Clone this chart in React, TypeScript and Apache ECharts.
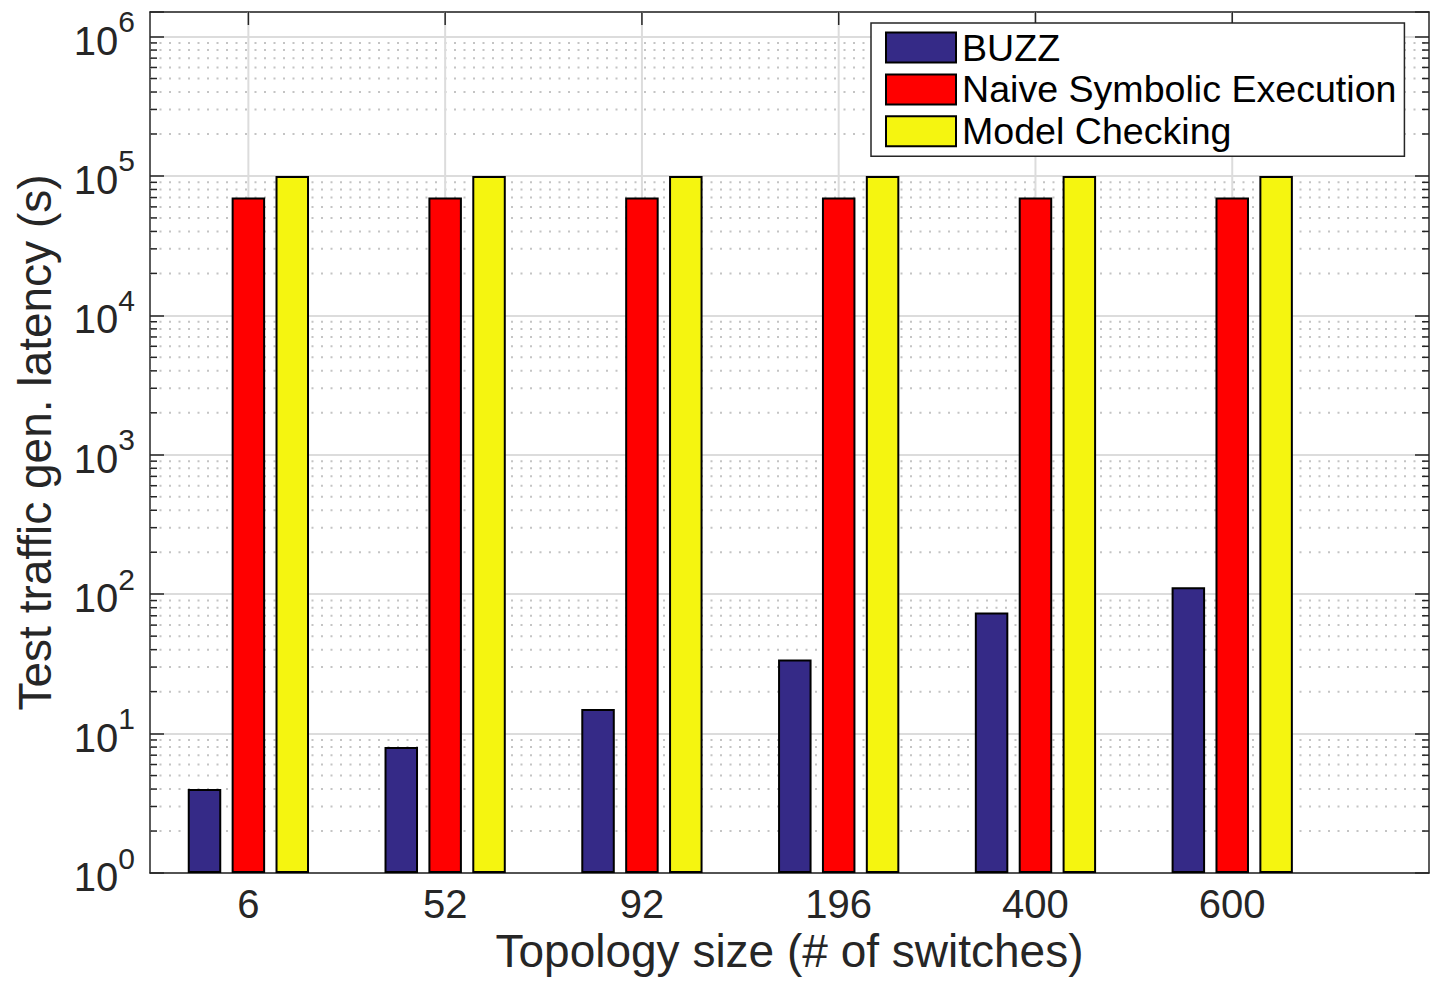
import React, { useEffect, useRef } from "react";
import * as echarts from "echarts";

const categories = ["6", "52", "92", "196", "400", "600"];
const buzz = [4, 8, 15, 34, 74, 112];
const naive = [70000, 70000, 70000, 70000, 70000, 70000];
const modelChecking = [100000, 100000, 100000, 100000, 100000, 100000];
const seriesNames = ["BUZZ", "Naive Symbolic Execution", "Model Checking"];
const seriesColors = ["#352A87", "#FF0000", "#F5F510"];
const decades = [1, 10, 100, 1000, 10000, 100000];
const mantissas = [2, 3, 4, 5, 6, 7, 8, 9];
const yMin = 1;
const yMax = 1.5e6;
const xTitle = "Topology size (# of switches)";
const yTitle = "Test traffic gen. latency (s)";

const FONT = "'Liberation Sans', Arial, Helvetica, sans-serif";
const AXIS_COLOR = "#262626";
const GRID_COLOR = "#DCDCDC";

export default function App() {
  const ref = useRef<HTMLDivElement>(null);

  useEffect(() => {
    if (!ref.current) return;
    const chart = echarts.init(ref.current, undefined, { renderer: "svg" });

    const minorValues: number[] = [];
    decades.forEach((d) => mantissas.forEach((m) => minorValues.push(m * d)));

    const xLabel = (v: number) => {
      const r = Math.round(v);
      if (Math.abs(v - r) > 1e-6) return "";
      return r >= 1 && r <= categories.length ? categories[r - 1] : "";
    };
    const yLabel = (v: number) => {
      const e = Math.round(Math.log10(v));
      if (Math.abs(v - Math.pow(10, e)) > 1e-6 * v) return "";
      return `{b|10}{s|${e}}`;
    };

    const baseX = {
      type: "value",
      min: 0.5,
      max: 7,
      interval: 0.5,
      axisLine: { show: true, onZero: false, lineStyle: { color: AXIS_COLOR, width: 1.5 } },
      axisTick: { show: false },
      splitLine: { show: false },
    };
    const baseY = {
      type: "log",
      logBase: 10,
      min: yMin,
      max: yMax,
      axisLine: { show: true, onZero: false, lineStyle: { color: AXIS_COLOR, width: 1.5 } },
      axisTick: { show: true, inside: true, length: 14, lineStyle: { color: AXIS_COLOR, width: 1.5 } },
    };

    const barSeries = [buzz, naive, modelChecking].map((vals, si) => ({
      name: seriesNames[si],
      type: "bar",
      xAxisIndex: 0,
      yAxisIndex: 0,
      z: 3,
      barWidth: 33.5,
      barGap: "31%",
      itemStyle: { color: seriesColors[si], borderColor: "#000", borderWidth: 2 },
      data: vals.map((v, i) => [i + 1, v]),
    }));

    chart.setOption({
      animation: false,
      backgroundColor: "#fff",
      grid: {
        left: 150,
        right: 2,
        top: 12,
        bottom: 108,
        containLabel: false,
        outerBoundsMode: "none",
      },
      legend: {
        data: seriesNames,
        orient: "vertical",
        left: 871,
        top: 23,
        icon: "rect",
        itemWidth: 70,
        itemHeight: 30,
        itemGap: 3.9,
        padding: [5.5, 8, 6, 14],
        backgroundColor: "#fff",
        borderColor: AXIS_COLOR,
        borderWidth: 1.5,
        itemStyle: { borderColor: "#000", borderWidth: 2 },
        textStyle: { fontSize: 37.6, color: "#000", fontFamily: FONT, padding: [0, 0, 0, 1] },
      },
      xAxis: [
        {
          ...baseX,
          position: "bottom",
          name: xTitle,
          nameLocation: "middle",
          nameGap: 55,
          nameMoveOverlap: false,
          nameTextStyle: { fontSize: 46, color: AXIS_COLOR, fontFamily: FONT },
          axisLabel: {
            show: true,
            formatter: xLabel,
            fontSize: 40,
            color: AXIS_COLOR,
            fontFamily: FONT,
            margin: 11,
            showMinLabel: true,
            showMaxLabel: true,
          },
        },
        {
          ...baseX,
          position: "top",
          axisLabel: { show: false },
        },
      ],
      yAxis: [
        {
          ...baseY,
          position: "left",
          name: yTitle,
          nameLocation: "middle",
          nameGap: 92,
          nameMoveOverlap: false,
          nameTextStyle: { fontSize: 46, color: AXIS_COLOR, fontFamily: FONT },
          axisLabel: {
            show: true,
            formatter: yLabel,
            margin: 15,
            color: AXIS_COLOR,
            fontFamily: FONT,
            rich: {
              b: { fontSize: 40, color: AXIS_COLOR, fontFamily: FONT, padding: [8, 0, 0, 0] },
              s: { fontSize: 30, color: AXIS_COLOR, fontFamily: FONT, padding: [0, 0, 30, 0] },
            },
          },
          splitLine: { show: true, lineStyle: { color: GRID_COLOR, width: 2 } },
        },
        {
          ...baseY,
          position: "right",
          axisLabel: { show: false },
          splitLine: { show: false },
        },
      ],
      series: [
        {
          type: "custom",
          name: "minor-grid",
          xAxisIndex: 0,
          yAxisIndex: 0,
          z: 1,
          silent: true,
          data: minorValues.map((v) => [1, v]),
          renderItem: (params: any, api: any) => {
            const y = api.coord([1, api.value(1)])[1];
            const cs = params.coordSys;
            return {
              type: "group",
              children: [
                {
                  type: "line",
                  shape: { x1: cs.x, y1: y, x2: cs.x + cs.width, y2: y },
                  style: { stroke: "#C4C4C4", lineWidth: 2, lineDash: [2, 7.5] },
                },
                {
                  type: "line",
                  shape: { x1: cs.x, y1: y, x2: cs.x + 7, y2: y },
                  style: { stroke: AXIS_COLOR, lineWidth: 1.5 },
                },
                {
                  type: "line",
                  shape: { x1: cs.x + cs.width - 7, y1: y, x2: cs.x + cs.width, y2: y },
                  style: { stroke: AXIS_COLOR, lineWidth: 1.5 },
                },
              ],
            };
          },
        },
        {
          type: "custom",
          name: "category-grid",
          xAxisIndex: 0,
          yAxisIndex: 0,
          z: 1,
          silent: true,
          data: categories.map((c, i) => [i + 1, 1]),
          renderItem: (params: any, api: any) => {
            const x = api.coord([api.value(0), 1])[0];
            const cs = params.coordSys;
            return {
              type: "group",
              children: [
                {
                  type: "line",
                  shape: { x1: x, y1: cs.y, x2: x, y2: cs.y + cs.height },
                  style: { stroke: GRID_COLOR, lineWidth: 2 },
                },
                {
                  type: "line",
                  shape: { x1: x, y1: cs.y, x2: x, y2: cs.y + 13 },
                  style: { stroke: AXIS_COLOR, lineWidth: 1.5 },
                },
                {
                  type: "line",
                  shape: { x1: x, y1: cs.y + cs.height - 13, x2: x, y2: cs.y + cs.height },
                  style: { stroke: AXIS_COLOR, lineWidth: 1.5 },
                },
              ],
            };
          },
        },
        ...barSeries,
      ],
    });

    return () => chart.dispose();
  }, []);

  return (
    <div
      ref={ref}
      style={{ position: "fixed", left: 0, top: 0, width: 1431, height: 981, background: "#fff" }}
    />
  );
}
